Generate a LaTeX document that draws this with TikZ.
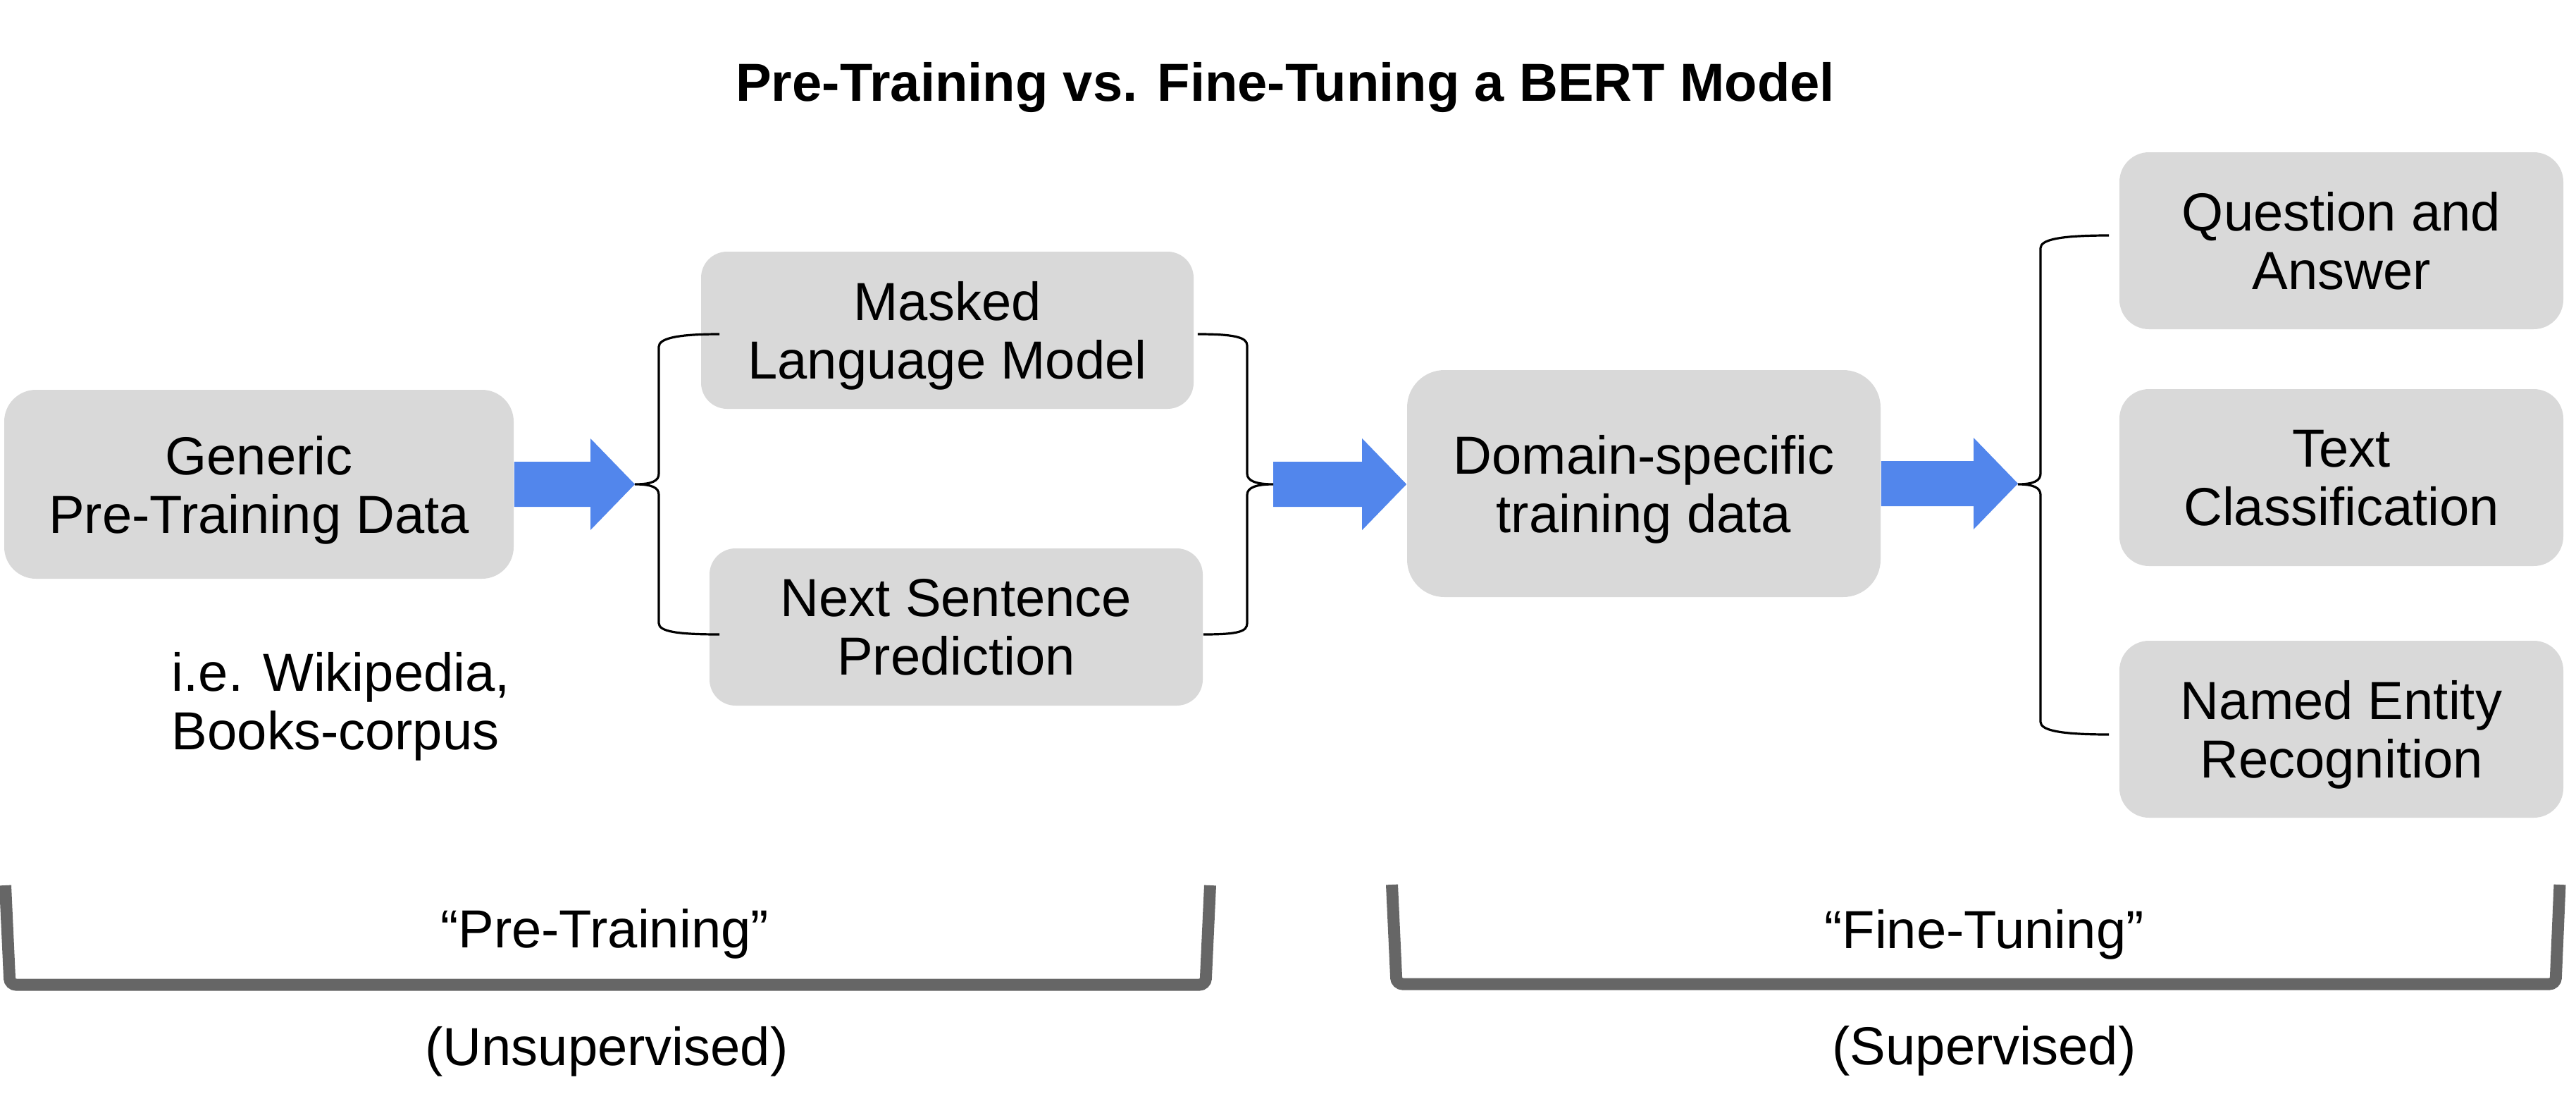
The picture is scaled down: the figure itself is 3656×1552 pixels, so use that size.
\documentclass[tikz,border=0pt]{standalone}
\usepackage{fontspec}
\setmainfont{Liberation Sans}
\usetikzlibrary{calc}
\definecolor{boxgray}{HTML}{D9D9D9}
\definecolor{arrowblue}{HTML}{5286EC}
\definecolor{brgray}{HTML}{666666}
% block arrow from #1 (tail) to #2 (tip), horizontal at the tail's height
\newcommand{\blockarr}[2]{%
  \fill[arrowblue] let \p1=(#1), \p2=(#2) in
    (\x1,\y1+8pt) -- (\x2-15.75pt,\y1+8pt) -- (\x2-15.75pt,\y1+16.25pt) --
    (\x2,\y1) -- (\x2-15.75pt,\y1-16.25pt) -- (\x2-15.75pt,\y1-8pt) --
    (\x1,\y1-8pt) -- cycle;}
\begin{document}
\begin{tikzpicture}[x=0.25pt,y=-0.25pt,
  every node/.style={font=\fontsize{19}{20.75}\selectfont, inner sep=0pt},
  box/.style={fill=boxgray, draw=none, align=center, text depth=0pt},
  curly/.style={draw=black, line width=0.8pt},
  under/.style={draw=brgray, line width=4.25pt, rounded corners=2.2pt}]
\useasboundingbox (0,0) rectangle (3656,1552);

% title
\node[anchor=base, font=\fontsize{19}{20.75}\selectfont\bfseries] (title) at (1824,143)
  {Pre-Training vs. Fine-Tuning a BERT Model};

% boxes
\node[box, minimum width=180.75pt, minimum height=67pt, rounded corners=11.25pt] (gen) at (367.5,687)
  {Generic\\Pre-Training Data};
\node[box, minimum width=174.75pt, minimum height=55.75pt, rounded corners=9.25pt] (mlm) at (1344.5,468.5)
  {Masked\\Language Model};
\node[box, minimum width=175pt, minimum height=55.75pt, rounded corners=9.25pt] (nsp) at (1357,889.5)
  {Next Sentence\\Prediction};
\node[box, minimum width=168pt, minimum height=80.5pt, rounded corners=13.25pt] (dom) at (2333,686)
  {Domain-specific\\training data};
\node[box, minimum width=157.5pt, minimum height=62.75pt, rounded corners=10.5pt] (qa) at (3323,341.5)
  {Question and\\Answer};
\node[box, minimum width=157.5pt, minimum height=62.75pt, rounded corners=10.5pt] (tc) at (3323,677.5)
  {Text\\Classification};
\node[box, minimum width=157.5pt, minimum height=62.75pt, rounded corners=10.5pt] (ner) at (3323,1034.5)
  {Named Entity\\Recognition};

% note under the first box
\node[anchor=west, align=left, text depth=0pt] (note) at (243,994)
  {i.e. Wikipedia,\\Books-corpus};

% arrow tips / tails and brace ends
\coordinate (tip1) at (901,687);
\coordinate (tail2) at (1807,687);
\coordinate (tip3) at (2864,687);
\coordinate (b1t) at ($(mlm.west)+(27,5.5)$);
\coordinate (b1b) at ($(nsp.west)+(15,10.5)$);
\coordinate (b2t) at ($(mlm.east)+(5,5.5)$);
\coordinate (b2b) at ($(nsp.east)+(0,10.5)$);
\coordinate (b3t) at ($(qa.west)+(-14,-7.5)$);
\coordinate (b3b) at ($(ner.west)+(-14,7.5)$);

% block arrows
\blockarr{gen.east}{tip1}
\blockarr{tail2}{dom.west}
\blockarr{dom.east}{tip3}

% braces
\draw[curly] (b1t) .. controls +(-60,0) and +(0,-12) .. (935,492) -- (935,672)
  .. controls +(0,10) and +(25,0) .. (tip1)
  .. controls +(25,0) and +(0,-10) .. (935,702) -- (935,884)
  .. controls +(0,12) and +(-60,0) .. (b1b);
\draw[curly] (b2t) .. controls +(50,0) and +(0,-12) .. (1770,490) -- (1770,672)
  .. controls +(0,10) and +(-25,0) .. (tail2)
  .. controls +(-25,0) and +(0,-10) .. (1770,702) -- (1770,884)
  .. controls +(0,12) and +(50,0) .. (b2b);
\draw[curly] (b3t) .. controls +(-70,0) and +(0,-12) .. (2896,352) -- (2896,672)
  .. controls +(0,10) and +(22,0) .. (tip3)
  .. controls +(22,0) and +(0,-10) .. (2896,702) -- (2896,1024)
  .. controls +(0,12) and +(-70,0) .. (b3b);

% bottom brackets
\draw[under] (7.5,1256) -- (14,1397) -- (1711,1397) -- (1717.5,1256);
\draw[under] (1975.5,1255) -- (1982,1396) -- (3627,1396) -- (3633,1255);

% bracket labels
\node[anchor=base] (pre) at (858,1344) {“Pre-Training”};
\node[anchor=base] (unsup) at (861,1511) {(Unsupervised)};
\node[anchor=base] (fine) at (2816,1345) {“Fine-Tuning”};
\node[anchor=base] (sup) at (2816,1510) {(Supervised)};
\end{tikzpicture}
\end{document}
